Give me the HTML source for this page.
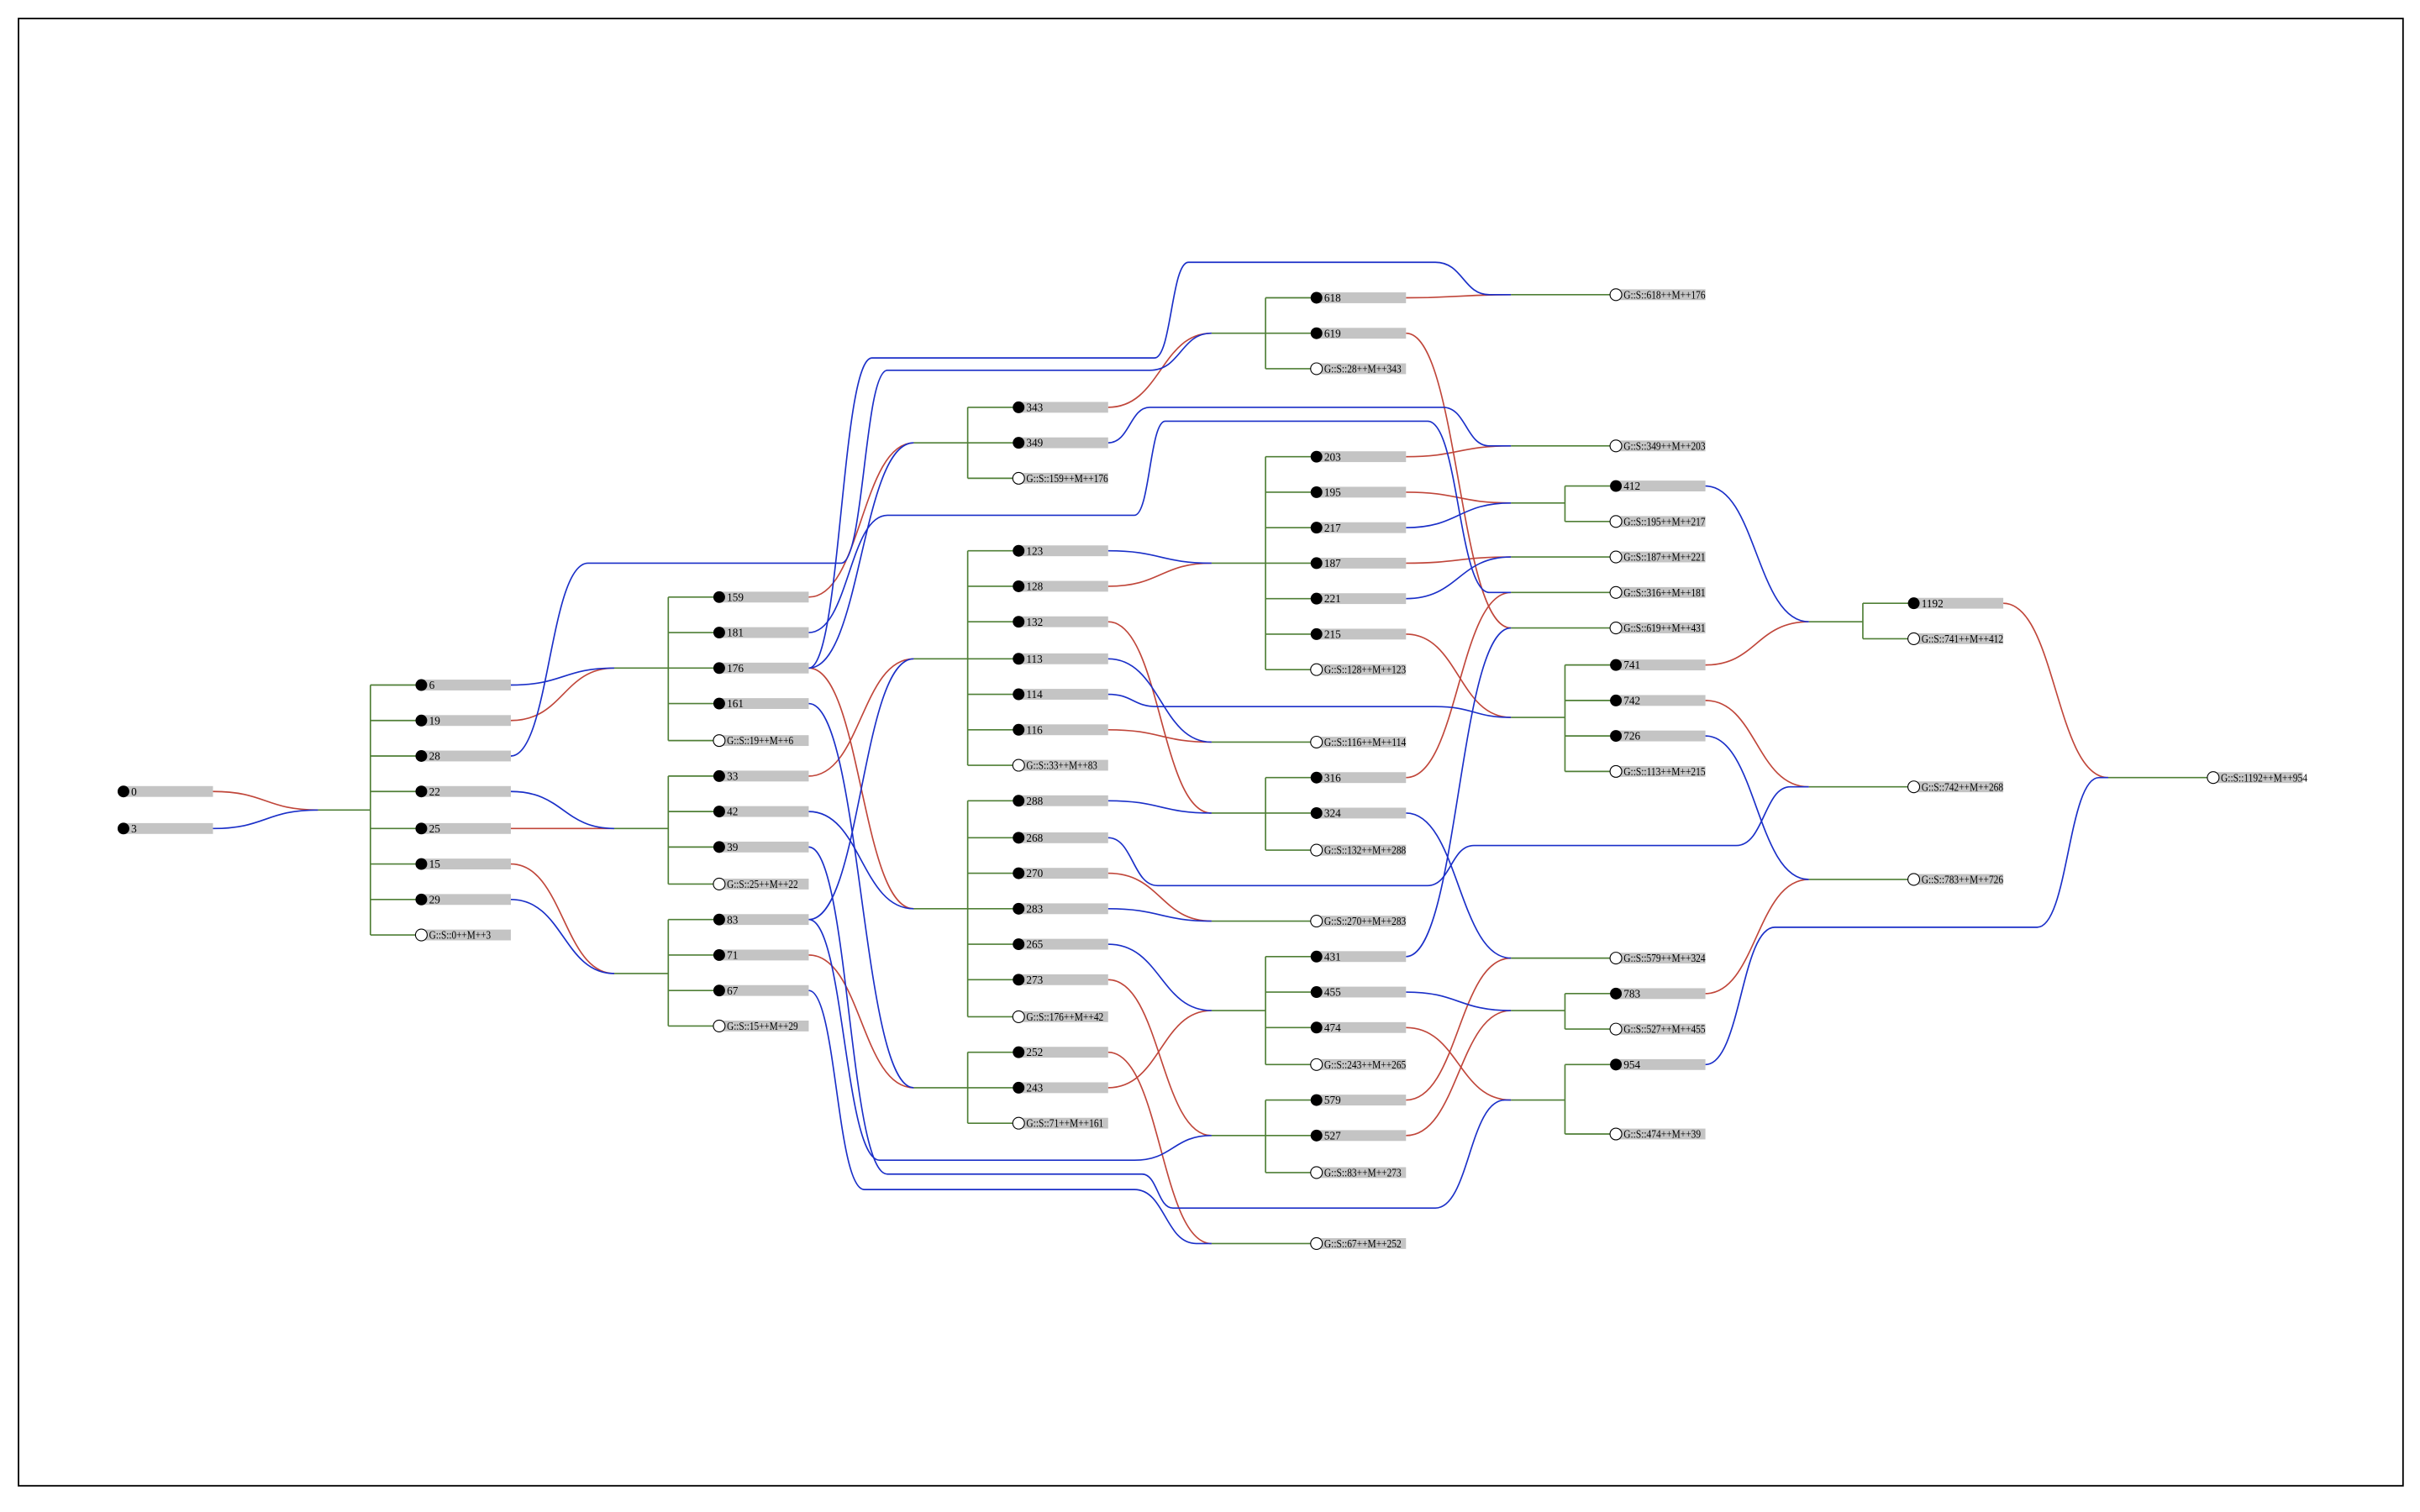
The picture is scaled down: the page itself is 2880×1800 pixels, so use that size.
<!DOCTYPE html>
<html><head><meta charset="utf-8"><style>
html,body{margin:0;padding:0;background:#fff;}
svg{display:block;}
text{font-family:"Liberation Serif",serif;font-size:7.2px;fill:#000;}
.r{fill:none;stroke:#c0463a;stroke-width:0.9;}
.b{fill:none;stroke:#1a2fc8;stroke-width:0.9;}
.g{fill:none;stroke:#4f7f36;stroke-width:0.9;}
.bar{fill:#c4c4c4;}
.w{fill:#fff;stroke:#000;stroke-width:0.6;}
</style></head><body>
<svg width="2880" height="1800" viewBox="0 0 1568 980" xmlns="http://www.w3.org/2000/svg">
<rect x="12" y="12" width="1545" height="951" fill="none" stroke="#000" stroke-width="1"/>

<path class="g" d="M206,525H240M240,444V606M240,444H273M240,467H273M240,490H273M240,513H273M240,537H273M240,560H273M240,583H273M240,606H273"/>
<path class="g" d="M398,433H433M433,387V480M433,387H466M433,410H466M433,433H466M433,456H466M433,480H466"/>
<path class="g" d="M398,537H433M433,503V573M433,503H466M433,526H466M433,549H466M433,573H466"/>
<path class="g" d="M398,631H433M433,596V665M433,596H466M433,619H466M433,642H466M433,665H466"/>
<path class="g" d="M592,287H627M627,264V310M627,264H660M627,287H660M627,310H660"/>
<path class="g" d="M592,427H627M627,357V496M627,357H660M627,380H660M627,403H660M627,427H660M627,450H660M627,473H660M627,496H660"/>
<path class="g" d="M592,589H627M627,519V659M627,519H660M627,543H660M627,566H660M627,589H660M627,612H660M627,635H660M627,659H660"/>
<path class="g" d="M592,705H627M627,682V728M627,682H660M627,705H660M627,728H660"/>
<path class="g" d="M785,216H820M820,193V239M820,193H853M820,216H853M820,239H853"/>
<path class="g" d="M785,365H820M820,296V434M820,296H853M820,319H853M820,342H853M820,365H853M820,388H853M820,411H853M820,434H853"/>
<path class="g" d="M785,527H820M820,504V551M820,504H853M820,527H853M820,551H853"/>
<path class="g" d="M785,655H820M820,620V690M820,620H853M820,643H853M820,666H853M820,690H853"/>
<path class="g" d="M785,736H820M820,713V760M820,713H853M820,736H853M820,760H853"/>
<path class="g" d="M979,326H1014M1014,315V338M1014,315H1047M1014,338H1047"/>
<path class="g" d="M979,465H1014M1014,431V500M1014,431H1047M1014,454H1047M1014,477H1047M1014,500H1047"/>
<path class="g" d="M979,655H1014M1014,644V667M1014,644H1047M1014,667H1047"/>
<path class="g" d="M979,713H1014M1014,690V735M1014,690H1047M1014,735H1047"/>
<path class="g" d="M1172,403H1207M1207,391V414M1207,391H1240M1207,414H1240"/>
<path class="g" d="M785,481H853M785,597H853M785,806H853M979,191H1047M979,289H1047M979,361H1047M979,384H1047M979,407H1047M979,621H1047M1172,510H1240M1172,570H1240M1366,504H1434"/>

<path class="r" d="M138,513C172,513 172,525 206,525"/>
<path class="r" d="M331,467C365,467 365,433 398,433"/>
<path class="r" d="M331,537L398,537"/>
<path class="r" d="M331,560C365,560 365,631 398,631"/>
<path class="r" d="M524,387C558,387 558,287 592,287"/>
<path class="r" d="M524,433C558,433 558,589 592,589"/>
<path class="r" d="M524,503C558,503 558,427 592,427"/>
<path class="r" d="M524,619C558,619 558,705 592,705"/>
<path class="r" d="M718,264C752,264 752,216 785,216"/>
<path class="r" d="M718,380C752,380 752,365 785,365"/>
<path class="r" d="M718,403C752,403 752,527 785,527"/>
<path class="r" d="M718,473C752,473 752,481 785,481"/>
<path class="r" d="M718,566C752,566 752,597 785,597"/>
<path class="r" d="M718,705C752,705 752,655 785,655"/>
<path class="r" d="M718,635C752,635 752,736 785,736"/>
<path class="r" d="M718,682C752,682 752,806 785,806"/>
<path class="r" d="M911,193C945,193 945,191 979,191"/>
<path class="r" d="M911,296C945,296 945,289 979,289"/>
<path class="r" d="M911,319C945,319 945,326 979,326"/>
<path class="r" d="M911,365C945,365 945,361 979,361"/>
<path class="r" d="M911,504C945,504 945,384 979,384"/>
<path class="r" d="M911,216C945,216 945,407 979,407"/>
<path class="r" d="M911,411C945,411 945,465 979,465"/>
<path class="r" d="M911,713C945,713 945,621 979,621"/>
<path class="r" d="M911,736C945,736 945,655 979,655"/>
<path class="r" d="M911,666C945,666 945,713 979,713"/>
<path class="r" d="M1105,431C1138,431 1138,403 1172,403"/>
<path class="r" d="M1105,454C1138,454 1138,510 1172,510"/>
<path class="r" d="M1105,644C1138,644 1138,570 1172,570"/>
<path class="r" d="M1298,391C1332,391 1332,504 1366,504"/>

<path class="b" d="M138,537C172,537 172,525 206,525"/>
<path class="b" d="M331,444C365,444 365,433 398,433"/>
<path class="b" d="M331,513C365,513 365,537 398,537"/>
<path class="b" d="M331,583C365,583 365,631 398,631"/>
<path class="b" d="M331,490C356,490 356,365 381,365L545,365C560,365 560,240 575,240L745,240C765,240 765,216 785,216"/>
<path class="b" d="M524,433C558,433 558,287 592,287"/>
<path class="b" d="M524,433C545,433 545,232 565,232L748,232C759,232 759,170 770,170L930,170C948,170 948,191 965,191L979,191"/>
<path class="b" d="M524,410C550,410 550,334 575,334L735,334C745,334 745,273 755,273L925,273C945,273 945,384 965,384L979,384"/>
<path class="b" d="M524,456C558,456 558,705 592,705"/>
<path class="b" d="M524,596C558,596 558,427 592,427"/>
<path class="b" d="M524,526C558,526 558,589 592,589"/>
<path class="b" d="M524,596C547,596 547,752 570,752L735,752C760,752 760,736 785,736"/>
<path class="b" d="M524,549C550,549 550,761 575,761L740,761C750,761 750,783 760,783L930,783C952,783 952,713 975,713L979,713"/>
<path class="b" d="M524,642C542,642 542,771 560,771L735,771C755,771 755,806 775,806L785,806"/>
<path class="b" d="M718,287C732,287 732,264 745,264L935,264C950,264 950,289 965,289L979,289"/>
<path class="b" d="M718,357C752,357 752,365 785,365"/>
<path class="b" d="M718,519C752,519 752,527 785,527"/>
<path class="b" d="M718,427C752,427 752,481 785,481"/>
<path class="b" d="M718,450C734,450 734,458 750,458L930,458C955,458 955,465 979,465"/>
<path class="b" d="M718,589C752,589 752,597 785,597"/>
<path class="b" d="M718,612C752,612 752,655 785,655"/>
<path class="b" d="M718,543C734,543 734,574 750,574L925,574C940,574 940,548 955,548L1125,548C1143,548 1143,510 1160,510L1172,510"/>
<path class="b" d="M911,342C945,342 945,326 979,326"/>
<path class="b" d="M911,388C945,388 945,361 979,361"/>
<path class="b" d="M911,620C945,620 945,407 979,407"/>
<path class="b" d="M911,527C945,527 945,621 979,621"/>
<path class="b" d="M911,643C945,643 945,655 979,655"/>
<path class="b" d="M1105,315C1138,315 1138,403 1172,403"/>
<path class="b" d="M1105,477C1138,477 1138,570 1172,570"/>
<path class="b" d="M1105,690C1128,690 1128,601 1150,601L1320,601C1340,601 1340,504 1360,504L1366,504"/>

<g class="bar">
<rect x="80" y="509.5" width="58" height="7"/><rect x="80" y="533.5" width="58" height="7"/>
<rect x="273" y="440.5" width="58" height="7"/><rect x="273" y="463.5" width="58" height="7"/><rect x="273" y="486.5" width="58" height="7"/><rect x="273" y="509.5" width="58" height="7"/><rect x="273" y="533.5" width="58" height="7"/><rect x="273" y="556.5" width="58" height="7"/><rect x="273" y="579.5" width="58" height="7"/><rect x="273" y="602.5" width="58" height="7"/>
<rect x="466" y="383.5" width="58" height="7"/><rect x="466" y="406.5" width="58" height="7"/><rect x="466" y="429.5" width="58" height="7"/><rect x="466" y="452.5" width="58" height="7"/><rect x="466" y="476.5" width="58" height="7"/>
<rect x="466" y="499.5" width="58" height="7"/><rect x="466" y="522.5" width="58" height="7"/><rect x="466" y="545.5" width="58" height="7"/><rect x="466" y="569.5" width="58" height="7"/>
<rect x="466" y="592.5" width="58" height="7"/><rect x="466" y="615.5" width="58" height="7"/><rect x="466" y="638.5" width="58" height="7"/><rect x="466" y="661.5" width="58" height="7"/>
<rect x="660" y="260.5" width="58" height="7"/><rect x="660" y="283.5" width="58" height="7"/><rect x="660" y="306.5" width="58" height="7"/>
<rect x="660" y="353.5" width="58" height="7"/><rect x="660" y="376.5" width="58" height="7"/><rect x="660" y="399.5" width="58" height="7"/><rect x="660" y="423.5" width="58" height="7"/><rect x="660" y="446.5" width="58" height="7"/><rect x="660" y="469.5" width="58" height="7"/><rect x="660" y="492.5" width="58" height="7"/>
<rect x="660" y="515.5" width="58" height="7"/><rect x="660" y="539.5" width="58" height="7"/><rect x="660" y="562.5" width="58" height="7"/><rect x="660" y="585.5" width="58" height="7"/><rect x="660" y="608.5" width="58" height="7"/><rect x="660" y="631.5" width="58" height="7"/><rect x="660" y="655.5" width="58" height="7"/>
<rect x="660" y="678.5" width="58" height="7"/><rect x="660" y="701.5" width="58" height="7"/><rect x="660" y="724.5" width="58" height="7"/>
<rect x="853" y="189.5" width="58" height="7"/><rect x="853" y="212.5" width="58" height="7"/><rect x="853" y="235.5" width="58" height="7"/>
<rect x="853" y="292.5" width="58" height="7"/><rect x="853" y="315.5" width="58" height="7"/><rect x="853" y="338.5" width="58" height="7"/><rect x="853" y="361.5" width="58" height="7"/><rect x="853" y="384.5" width="58" height="7"/><rect x="853" y="407.5" width="58" height="7"/><rect x="853" y="430.5" width="58" height="7"/>
<rect x="853" y="477.5" width="58" height="7"/>
<rect x="853" y="500.5" width="58" height="7"/><rect x="853" y="523.5" width="58" height="7"/><rect x="853" y="547.5" width="58" height="7"/>
<rect x="853" y="593.5" width="58" height="7"/>
<rect x="853" y="616.5" width="58" height="7"/><rect x="853" y="639.5" width="58" height="7"/><rect x="853" y="662.5" width="58" height="7"/><rect x="853" y="686.5" width="58" height="7"/>
<rect x="853" y="709.5" width="58" height="7"/><rect x="853" y="732.5" width="58" height="7"/><rect x="853" y="756.5" width="58" height="7"/>
<rect x="853" y="802.5" width="58" height="7"/>
<rect x="1047" y="187.5" width="58" height="7"/><rect x="1047" y="285.5" width="58" height="7"/><rect x="1047" y="311.5" width="58" height="7"/><rect x="1047" y="334.5" width="58" height="7"/><rect x="1047" y="357.5" width="58" height="7"/><rect x="1047" y="380.5" width="58" height="7"/><rect x="1047" y="403.5" width="58" height="7"/>
<rect x="1047" y="427.5" width="58" height="7"/><rect x="1047" y="450.5" width="58" height="7"/><rect x="1047" y="473.5" width="58" height="7"/><rect x="1047" y="496.5" width="58" height="7"/>
<rect x="1047" y="617.5" width="58" height="7"/><rect x="1047" y="640.5" width="58" height="7"/><rect x="1047" y="663.5" width="58" height="7"/><rect x="1047" y="686.5" width="58" height="7"/><rect x="1047" y="731.5" width="58" height="7"/>
<rect x="1240" y="387.5" width="58" height="7"/><rect x="1240" y="410.5" width="58" height="7"/><rect x="1240" y="506.5" width="58" height="7"/><rect x="1240" y="566.5" width="58" height="7"/>
<rect x="1434" y="500.5" width="58" height="7"/>
</g>

<g fill="#000">
<circle cx="80" cy="513" r="3.8"/><circle cx="80" cy="537" r="3.8"/>
<circle cx="273" cy="444" r="3.8"/><circle cx="273" cy="467" r="3.8"/><circle cx="273" cy="490" r="3.8"/><circle cx="273" cy="513" r="3.8"/><circle cx="273" cy="537" r="3.8"/><circle cx="273" cy="560" r="3.8"/><circle cx="273" cy="583" r="3.8"/>
<circle cx="466" cy="387" r="3.8"/><circle cx="466" cy="410" r="3.8"/><circle cx="466" cy="433" r="3.8"/><circle cx="466" cy="456" r="3.8"/>
<circle cx="466" cy="503" r="3.8"/><circle cx="466" cy="526" r="3.8"/><circle cx="466" cy="549" r="3.8"/>
<circle cx="466" cy="596" r="3.8"/><circle cx="466" cy="619" r="3.8"/><circle cx="466" cy="642" r="3.8"/>
<circle cx="660" cy="264" r="3.8"/><circle cx="660" cy="287" r="3.8"/>
<circle cx="660" cy="357" r="3.8"/><circle cx="660" cy="380" r="3.8"/><circle cx="660" cy="403" r="3.8"/><circle cx="660" cy="427" r="3.8"/><circle cx="660" cy="450" r="3.8"/><circle cx="660" cy="473" r="3.8"/>
<circle cx="660" cy="519" r="3.8"/><circle cx="660" cy="543" r="3.8"/><circle cx="660" cy="566" r="3.8"/><circle cx="660" cy="589" r="3.8"/><circle cx="660" cy="612" r="3.8"/><circle cx="660" cy="635" r="3.8"/>
<circle cx="660" cy="682" r="3.8"/><circle cx="660" cy="705" r="3.8"/>
<circle cx="853" cy="193" r="3.8"/><circle cx="853" cy="216" r="3.8"/>
<circle cx="853" cy="296" r="3.8"/><circle cx="853" cy="319" r="3.8"/><circle cx="853" cy="342" r="3.8"/><circle cx="853" cy="365" r="3.8"/><circle cx="853" cy="388" r="3.8"/><circle cx="853" cy="411" r="3.8"/>
<circle cx="853" cy="504" r="3.8"/><circle cx="853" cy="527" r="3.8"/>
<circle cx="853" cy="620" r="3.8"/><circle cx="853" cy="643" r="3.8"/><circle cx="853" cy="666" r="3.8"/>
<circle cx="853" cy="713" r="3.8"/><circle cx="853" cy="736" r="3.8"/>
<circle cx="1047" cy="315" r="3.8"/><circle cx="1047" cy="431" r="3.8"/><circle cx="1047" cy="454" r="3.8"/><circle cx="1047" cy="477" r="3.8"/><circle cx="1047" cy="644" r="3.8"/><circle cx="1047" cy="690" r="3.8"/>
<circle cx="1240" cy="391" r="3.8"/>
</g>
<g class="w">
<circle cx="273" cy="606" r="3.8"/><circle cx="466" cy="480" r="3.8"/><circle cx="466" cy="573" r="3.8"/><circle cx="466" cy="665" r="3.8"/>
<circle cx="660" cy="310" r="3.8"/><circle cx="660" cy="496" r="3.8"/><circle cx="660" cy="659" r="3.8"/><circle cx="660" cy="728" r="3.8"/>
<circle cx="853" cy="239" r="3.8"/><circle cx="853" cy="434" r="3.8"/><circle cx="853" cy="481" r="3.8"/><circle cx="853" cy="551" r="3.8"/><circle cx="853" cy="597" r="3.8"/><circle cx="853" cy="690" r="3.8"/><circle cx="853" cy="760" r="3.8"/><circle cx="853" cy="806" r="3.8"/>
<circle cx="1047" cy="191" r="3.8"/><circle cx="1047" cy="289" r="3.8"/><circle cx="1047" cy="338" r="3.8"/><circle cx="1047" cy="361" r="3.8"/><circle cx="1047" cy="384" r="3.8"/><circle cx="1047" cy="407" r="3.8"/><circle cx="1047" cy="500" r="3.8"/><circle cx="1047" cy="621" r="3.8"/><circle cx="1047" cy="667" r="3.8"/><circle cx="1047" cy="735" r="3.8"/>
<circle cx="1240" cy="414" r="3.8"/><circle cx="1240" cy="510" r="3.8"/><circle cx="1240" cy="570" r="3.8"/>
<circle cx="1434" cy="504" r="3.8"/>
</g>

<g>
<text x="85" y="515.5">0</text><text x="85" y="539.5">3</text>
<text x="278" y="446.5">6</text><text x="278" y="469.5">19</text><text x="278" y="492.5">28</text><text x="278" y="515.5">22</text><text x="278" y="539.5">25</text><text x="278" y="562.5">15</text><text x="278" y="585.5">29</text><text x="278" y="608.5" textLength="40" lengthAdjust="spacingAndGlyphs">G::S::0++M++3</text>
<text x="471" y="389.5">159</text><text x="471" y="412.5">181</text><text x="471" y="435.5">176</text><text x="471" y="458.5">161</text><text x="471" y="482.5" textLength="43" lengthAdjust="spacingAndGlyphs">G::S::19++M++6</text>
<text x="471" y="505.5">33</text><text x="471" y="528.5">42</text><text x="471" y="551.5">39</text><text x="471" y="575.5" textLength="46" lengthAdjust="spacingAndGlyphs">G::S::25++M++22</text>
<text x="471" y="598.5">83</text><text x="471" y="621.5">71</text><text x="471" y="644.5">67</text><text x="471" y="667.5" textLength="46" lengthAdjust="spacingAndGlyphs">G::S::15++M++29</text>
<text x="665" y="266.5">343</text><text x="665" y="289.5">349</text><text x="665" y="312.5" textLength="53" lengthAdjust="spacingAndGlyphs">G::S::159++M++176</text>
<text x="665" y="359.5">123</text><text x="665" y="382.5">128</text><text x="665" y="405.5">132</text><text x="665" y="429.5">113</text><text x="665" y="452.5">114</text><text x="665" y="475.5">116</text><text x="665" y="498.5" textLength="46" lengthAdjust="spacingAndGlyphs">G::S::33++M++83</text>
<text x="665" y="521.5">288</text><text x="665" y="545.5">268</text><text x="665" y="568.5">270</text><text x="665" y="591.5">283</text><text x="665" y="614.5">265</text><text x="665" y="637.5">273</text><text x="665" y="661.5" textLength="50" lengthAdjust="spacingAndGlyphs">G::S::176++M++42</text>
<text x="665" y="684.5">252</text><text x="665" y="707.5">243</text><text x="665" y="730.5" textLength="50" lengthAdjust="spacingAndGlyphs">G::S::71++M++161</text>
<text x="858" y="195.5">618</text><text x="858" y="218.5">619</text><text x="858" y="241.5" textLength="50" lengthAdjust="spacingAndGlyphs">G::S::28++M++343</text>
<text x="858" y="298.5">203</text><text x="858" y="321.5">195</text><text x="858" y="344.5">217</text><text x="858" y="367.5">187</text><text x="858" y="390.5">221</text><text x="858" y="413.5">215</text><text x="858" y="436.5" textLength="53" lengthAdjust="spacingAndGlyphs">G::S::128++M++123</text>
<text x="858" y="483.5" textLength="53" lengthAdjust="spacingAndGlyphs">G::S::116++M++114</text>
<text x="858" y="506.5">316</text><text x="858" y="529.5">324</text><text x="858" y="553.5" textLength="53" lengthAdjust="spacingAndGlyphs">G::S::132++M++288</text>
<text x="858" y="599.5" textLength="53" lengthAdjust="spacingAndGlyphs">G::S::270++M++283</text>
<text x="858" y="622.5">431</text><text x="858" y="645.5">455</text><text x="858" y="668.5">474</text><text x="858" y="692.5" textLength="53" lengthAdjust="spacingAndGlyphs">G::S::243++M++265</text>
<text x="858" y="715.5">579</text><text x="858" y="738.5">527</text><text x="858" y="762.5" textLength="50" lengthAdjust="spacingAndGlyphs">G::S::83++M++273</text>
<text x="858" y="808.5" textLength="50" lengthAdjust="spacingAndGlyphs">G::S::67++M++252</text>
<text x="1052" y="193.5" textLength="53" lengthAdjust="spacingAndGlyphs">G::S::618++M++176</text><text x="1052" y="291.5" textLength="53" lengthAdjust="spacingAndGlyphs">G::S::349++M++203</text>
<text x="1052" y="317.5">412</text><text x="1052" y="340.5" textLength="53" lengthAdjust="spacingAndGlyphs">G::S::195++M++217</text>
<text x="1052" y="363.5" textLength="53" lengthAdjust="spacingAndGlyphs">G::S::187++M++221</text><text x="1052" y="386.5" textLength="53" lengthAdjust="spacingAndGlyphs">G::S::316++M++181</text><text x="1052" y="409.5" textLength="53" lengthAdjust="spacingAndGlyphs">G::S::619++M++431</text>
<text x="1052" y="433.5">741</text><text x="1052" y="456.5">742</text><text x="1052" y="479.5">726</text><text x="1052" y="502.5" textLength="53" lengthAdjust="spacingAndGlyphs">G::S::113++M++215</text>
<text x="1052" y="623.5" textLength="53" lengthAdjust="spacingAndGlyphs">G::S::579++M++324</text>
<text x="1052" y="646.5">783</text><text x="1052" y="669.5" textLength="53" lengthAdjust="spacingAndGlyphs">G::S::527++M++455</text>
<text x="1052" y="692.5">954</text><text x="1052" y="737.5" textLength="50" lengthAdjust="spacingAndGlyphs">G::S::474++M++39</text>
<text x="1245" y="393.5">1192</text><text x="1245" y="416.5" textLength="53" lengthAdjust="spacingAndGlyphs">G::S::741++M++412</text>
<text x="1245" y="512.5" textLength="53" lengthAdjust="spacingAndGlyphs">G::S::742++M++268</text><text x="1245" y="572.5" textLength="53" lengthAdjust="spacingAndGlyphs">G::S::783++M++726</text>
<text x="1439" y="506.5" textLength="56" lengthAdjust="spacingAndGlyphs">G::S::1192++M++954</text>
</g>
</svg>
</body></html>
